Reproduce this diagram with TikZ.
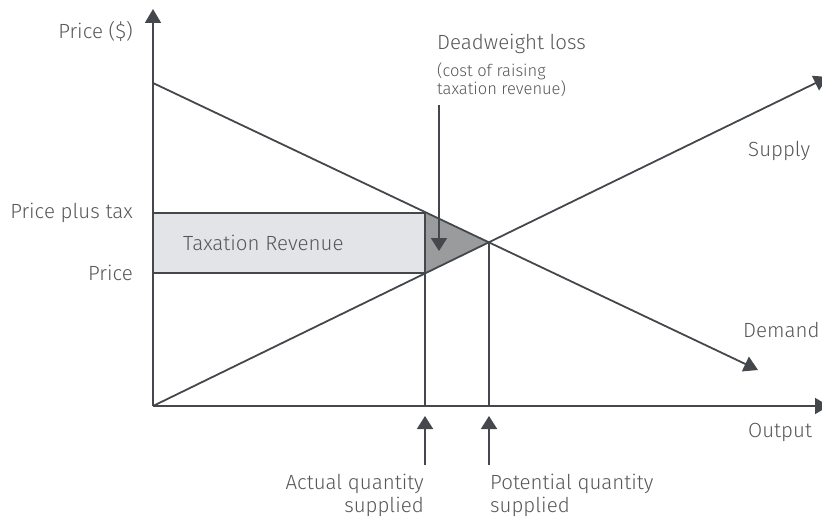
\documentclass[tikz,border=0pt]{standalone}
\usepackage{fontspec}
\setmainfont{Fira Sans Light}
\usetikzlibrary{arrows.meta}
\definecolor{ln}{HTML}{44484C}
\definecolor{tx}{HTML}{555759}
\definecolor{revfill}{HTML}{E2E4E7}
\definecolor{dwfill}{HTML}{9A9B9D}
\tikzset{
  axis/.style={draw=ln, line width=1.8pt, -{Triangle[width=16pt,length=14pt]}},
  curve/.style={draw=ln, line width=1.8pt},
  ptr/.style={draw=ln, line width=1.8pt, -{Triangle[width=16pt,length=13pt]}},
  lbl/.style={text=tx, font=\fontsize{20.5}{23}\selectfont, inner sep=0pt},
  small/.style={text=tx, font=\fontsize{16.5}{16}\selectfont, inner sep=0pt, align=left},
}
\begin{document}
\begin{tikzpicture}[x=1pt,y=-1pt]
\useasboundingbox (0,0) rectangle (822,519);
\coordinate (O) at (153,406);
\coordinate (Ytop) at (153,9);
\coordinate (Xend) at (829,406);
\coordinate (Dstart) at (153,83);
\coordinate (Dend) at (758,370);
\coordinate (Send) at (828,77);
\coordinate (E) at (489,242);
\coordinate (A) at (425,213);
\coordinate (B) at (425,273);
\coordinate (PT) at (153,213);
\coordinate (P) at (153,273);
\coordinate (A0) at (425,406);
\coordinate (E0) at (489,406);
% fills
\path[fill=revfill] (PT) rectangle (B);
\path[fill=dwfill] (A) -- (B) -- (E) -- cycle;
\draw[curve] (PT) -- (A);
\draw[curve] (P) -- (B);
\draw[curve] (A) -- (A0);
\draw[curve] (E) -- (E0);
% curves
\draw[axis] (Dstart) -- (Dend);
\draw[axis] (O) -- (Send);
% axes
\draw[axis] (O) -- (Ytop);
\draw[axis] (O) -- (Xend);
% pointers
\coordinate (dwS) at (439,105);
\coordinate (dwT) at (439,251);
\draw[ptr] (dwS) -- (dwT);
\coordinate (aS) at (425,465);
\coordinate (aT) at (425,416);
\coordinate (pS) at (489,465);
\coordinate (pT) at (489,416);
\draw[ptr] (aS) -- (aT);
\draw[ptr] (pS) -- (pT);
% labels
\node[lbl, anchor=east] (lprice) at (133,31) {Price (\$)};
\node[lbl, anchor=east] (lpt) at (133,213) {Price plus tax};
\node[lbl, anchor=east] (lp) at (133,273) {Price};
\node[lbl, anchor=west] (ltr) at (183,243) {Taxation Revenue};
\node[lbl, anchor=west] (ldw) at (437,44) {Deadweight loss};
\node[small, anchor=north west] (lcost) at (437,62) {(cost of raising\\taxation revenue)};
\node[lbl, anchor=west] (lsup) at (748,151) {Supply};
\node[lbl, anchor=west] (ldem) at (743,330) {Demand};
\node[lbl, anchor=west] (lout) at (748,432) {Output};
\node[lbl, anchor=north east, align=right] (lact) at (424,474) {Actual quantity\\supplied};
\node[lbl, anchor=north west, align=left] (lpot) at (490,474) {Potential quantity\\supplied};
\end{tikzpicture}
\end{document}
